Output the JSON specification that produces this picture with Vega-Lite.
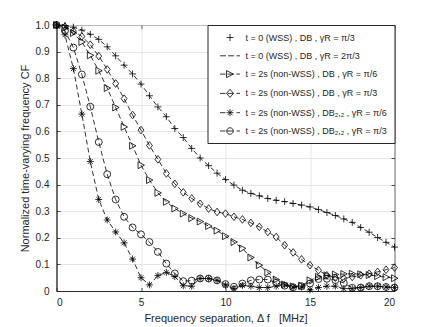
{
  "$schema": "https://vega.github.io/schema/vega-lite/v6.json",
  "width": 338,
  "height": 266,
  "autosize": {"type": "none"},
  "padding": {"left": 56.5, "top": 25, "right": 41.5, "bottom": 36},
  "background": "white",
  "config": {
    "font": "Liberation Sans",
    "view": {"stroke": "#262626", "strokeWidth": 1},
    "axis": {
      "domainColor": "#262626",
      "tickColor": "#262626",
      "labelColor": "#262626",
      "titleColor": "#262626",
      "labelFont": "Liberation Sans",
      "titleFont": "Liberation Sans",
      "labelFontSize": 10,
      "titleFontSize": 11,
      "titleFontWeight": "normal",
      "gridColor": "#dfdfdf",
      "gridWidth": 0.8,
      "tickSize": -3.5,
      "tickWidth": 0.8,
      "domainWidth": 1
    },
    "legend": {
      "orient": "top-right",
      "offset": 0,
      "padding": 7,
      "fillColor": "white",
      "strokeColor": "#262626",
      "strokeWidth": 1,
      "labelFont": "Liberation Sans",
      "labelFontSize": 9,
      "labelColor": "#262626",
      "symbolSize": 100,
      "symbolOpacity": 1,
      "symbolStrokeColor": "black",
      "symbolFillColor": "transparent",
      "symbolStrokeWidth": 0.8,
      "rowPadding": 7.3,
      "symbolOffset": 10,
      "labelOffset": 10
    }
  },
  "data": {
    "values": [
      {"s":"A","x":0,"y":1.000},{"s":"A","x":0.5,"y":0.998},{"s":"A","x":1,"y":0.992},{"s":"A","x":1.5,"y":0.981},{"s":"A","x":2,"y":0.965},{"s":"A","x":2.5,"y":0.946},{"s":"A","x":3,"y":0.918},{"s":"A","x":3.5,"y":0.884},{"s":"A","x":4,"y":0.849},{"s":"A","x":4.5,"y":0.816},{"s":"A","x":5,"y":0.778},{"s":"A","x":5.5,"y":0.734},{"s":"A","x":6,"y":0.692},{"s":"A","x":6.5,"y":0.655},{"s":"A","x":7,"y":0.611},{"s":"A","x":7.5,"y":0.577},{"s":"A","x":8,"y":0.536},{"s":"A","x":8.5,"y":0.500},{"s":"A","x":9,"y":0.471},{"s":"A","x":9.5,"y":0.443},{"s":"A","x":10,"y":0.419},{"s":"A","x":10.5,"y":0.398},{"s":"A","x":11,"y":0.379},{"s":"A","x":11.5,"y":0.367},{"s":"A","x":12,"y":0.358},{"s":"A","x":12.5,"y":0.348},{"s":"A","x":13,"y":0.341},{"s":"A","x":13.5,"y":0.336},{"s":"A","x":14,"y":0.329},{"s":"A","x":14.5,"y":0.323},{"s":"A","x":15,"y":0.316},{"s":"A","x":15.5,"y":0.306},{"s":"A","x":16,"y":0.295},{"s":"A","x":16.5,"y":0.284},{"s":"A","x":17,"y":0.271},{"s":"A","x":17.5,"y":0.258},{"s":"A","x":18,"y":0.239},{"s":"A","x":18.5,"y":0.221},{"s":"A","x":19,"y":0.201},{"s":"A","x":19.5,"y":0.183},{"s":"A","x":20,"y":0.165},
      {"s":"C","x":0,"y":1.000},{"s":"C","x":0.5,"y":0.990},{"s":"C","x":1,"y":0.970},{"s":"C","x":1.5,"y":0.936},{"s":"C","x":2,"y":0.886},{"s":"C","x":2.5,"y":0.828},{"s":"C","x":3,"y":0.763},{"s":"C","x":3.5,"y":0.690},{"s":"C","x":4,"y":0.617},{"s":"C","x":4.5,"y":0.546},{"s":"C","x":5,"y":0.473},{"s":"C","x":5.5,"y":0.417},{"s":"C","x":6,"y":0.369},{"s":"C","x":6.5,"y":0.335},{"s":"C","x":7,"y":0.310},{"s":"C","x":7.5,"y":0.291},{"s":"C","x":8,"y":0.274},{"s":"C","x":8.5,"y":0.261},{"s":"C","x":9,"y":0.244},{"s":"C","x":9.5,"y":0.227},{"s":"C","x":10,"y":0.206},{"s":"C","x":10.5,"y":0.184},{"s":"C","x":11,"y":0.160},{"s":"C","x":11.5,"y":0.126},{"s":"C","x":12,"y":0.097},{"s":"C","x":12.5,"y":0.070},{"s":"C","x":13,"y":0.043},{"s":"C","x":13.5,"y":0.025},{"s":"C","x":14,"y":0.017},{"s":"C","x":14.5,"y":0.020},{"s":"C","x":15,"y":0.040},{"s":"C","x":15.5,"y":0.053},{"s":"C","x":16,"y":0.059},{"s":"C","x":16.5,"y":0.062},{"s":"C","x":17,"y":0.064},{"s":"C","x":17.5,"y":0.065},{"s":"C","x":18,"y":0.063},{"s":"C","x":18.5,"y":0.060},{"s":"C","x":19,"y":0.056},{"s":"C","x":19.5,"y":0.052},{"s":"C","x":20,"y":0.048},
      {"s":"D","x":0,"y":1.000},{"s":"D","x":0.5,"y":0.994},{"s":"D","x":1,"y":0.977},{"s":"D","x":1.5,"y":0.957},{"s":"D","x":2,"y":0.926},{"s":"D","x":2.5,"y":0.883},{"s":"D","x":3,"y":0.833},{"s":"D","x":3.5,"y":0.780},{"s":"D","x":4,"y":0.723},{"s":"D","x":4.5,"y":0.662},{"s":"D","x":5,"y":0.605},{"s":"D","x":5.5,"y":0.547},{"s":"D","x":6,"y":0.495},{"s":"D","x":6.5,"y":0.442},{"s":"D","x":7,"y":0.403},{"s":"D","x":7.5,"y":0.371},{"s":"D","x":8,"y":0.348},{"s":"D","x":8.5,"y":0.328},{"s":"D","x":9,"y":0.310},{"s":"D","x":9.5,"y":0.297},{"s":"D","x":10,"y":0.291},{"s":"D","x":10.5,"y":0.279},{"s":"D","x":11,"y":0.269},{"s":"D","x":11.5,"y":0.256},{"s":"D","x":12,"y":0.241},{"s":"D","x":12.5,"y":0.222},{"s":"D","x":13,"y":0.203},{"s":"D","x":13.5,"y":0.172},{"s":"D","x":14,"y":0.145},{"s":"D","x":14.5,"y":0.119},{"s":"D","x":15,"y":0.097},{"s":"D","x":15.5,"y":0.078},{"s":"D","x":16,"y":0.059},{"s":"D","x":16.5,"y":0.050},{"s":"D","x":17,"y":0.047},{"s":"D","x":17.5,"y":0.053},{"s":"D","x":18,"y":0.059},{"s":"D","x":18.5,"y":0.065},{"s":"D","x":19,"y":0.072},{"s":"D","x":19.5,"y":0.080},{"s":"D","x":20,"y":0.088},
      {"s":"E","x":0,"y":1.000},{"s":"E","x":0.5,"y":0.963},{"s":"E","x":1,"y":0.836},{"s":"E","x":1.5,"y":0.665},{"s":"E","x":2,"y":0.487},{"s":"E","x":2.5,"y":0.344},{"s":"E","x":3,"y":0.267},{"s":"E","x":3.5,"y":0.222},{"s":"E","x":4,"y":0.181},{"s":"E","x":4.5,"y":0.120},{"s":"E","x":5,"y":0.050},{"s":"E","x":5.5,"y":0.023},{"s":"E","x":6,"y":0.058},{"s":"E","x":6.5,"y":0.070},{"s":"E","x":7,"y":0.054},{"s":"E","x":7.5,"y":0.020},{"s":"E","x":8,"y":0.018},{"s":"E","x":8.5,"y":0.047},{"s":"E","x":9,"y":0.047},{"s":"E","x":9.5,"y":0.040},{"s":"E","x":10,"y":0.022},{"s":"E","x":10.5,"y":0.009},{"s":"E","x":11,"y":0.021},{"s":"E","x":11.5,"y":0.018},{"s":"E","x":12,"y":0.013},{"s":"E","x":12.5,"y":0.013},{"s":"E","x":13,"y":0.018},{"s":"E","x":13.5,"y":0.023},{"s":"E","x":14,"y":0.015},{"s":"E","x":14.5,"y":0.015},{"s":"E","x":15,"y":0.004},{"s":"E","x":15.5,"y":0.013},{"s":"E","x":16,"y":0.018},{"s":"E","x":16.5,"y":0.018},{"s":"E","x":17,"y":0.009},{"s":"E","x":17.5,"y":0.009},{"s":"E","x":18,"y":0.013},{"s":"E","x":18.5,"y":0.018},{"s":"E","x":19,"y":0.018},{"s":"E","x":19.5,"y":0.015},{"s":"E","x":20,"y":0.013},
      {"s":"F","x":0,"y":1.000},{"s":"F","x":0.5,"y":0.978},{"s":"F","x":1,"y":0.915},{"s":"F","x":1.5,"y":0.814},{"s":"F","x":2,"y":0.693},{"s":"F","x":2.5,"y":0.560},{"s":"F","x":3,"y":0.439},{"s":"F","x":3.5,"y":0.344},{"s":"F","x":4,"y":0.279},{"s":"F","x":4.5,"y":0.239},{"s":"F","x":5,"y":0.213},{"s":"F","x":5.5,"y":0.184},{"s":"F","x":6,"y":0.147},{"s":"F","x":6.5,"y":0.103},{"s":"F","x":7,"y":0.066},{"s":"F","x":7.5,"y":0.037},{"s":"F","x":8,"y":0.039},{"s":"F","x":8.5,"y":0.047},{"s":"F","x":9,"y":0.047},{"s":"F","x":9.5,"y":0.040},{"s":"F","x":10,"y":0.026},{"s":"F","x":10.5,"y":0.016},{"s":"F","x":11,"y":0.028},{"s":"F","x":11.5,"y":0.040},{"s":"F","x":12,"y":0.043},{"s":"F","x":12.5,"y":0.043},{"s":"F","x":13,"y":0.031},{"s":"F","x":13.5,"y":0.020},{"s":"F","x":14,"y":0.014},{"s":"F","x":14.5,"y":0.018},{"s":"F","x":15,"y":0.028},{"s":"F","x":15.5,"y":0.045},{"s":"F","x":16,"y":0.046},{"s":"F","x":16.5,"y":0.041},{"s":"F","x":17,"y":0.030},{"s":"F","x":17.5,"y":0.012},{"s":"F","x":18,"y":0.013},{"s":"F","x":18.5,"y":0.018},{"s":"F","x":19,"y":0.018},{"s":"F","x":19.5,"y":0.015},{"s":"F","x":20,"y":0.013}
    ]
  },
  "layer": [
    {
      "mark": {"type": "line", "color": "black", "strokeWidth": 0.8, "strokeDash": [5, 3]},
      "encoding": {
        "x": {"field": "x", "type": "quantitative", "scale": {"domain": [0, 20], "nice": false},
              "axis": {"orient": "bottom", "values": [0, 5, 10, 15, 20], "grid": true, "labelPadding": 10, "title": "Frequency separation, Δ f\u00a0\u00a0\u00a0[MHz]", "titlePadding": 5}},
        "y": {"field": "y", "type": "quantitative", "scale": {"domain": [0, 1], "nice": false},
              "axis": {"orient": "left", "values": [0, 0.1, 0.2, 0.3, 0.4, 0.5, 0.6, 0.7, 0.8, 0.9, 1], "grid": true, "labelPadding": 11, "labelExpr": "datum.value == 0 ? '0' : format(datum.value, '.1f')", "title": "Normalized time-varying frequency CF", "titlePadding": 5}},
        "detail": {"field": "s", "type": "nominal"}
      }
    },
    {
      "mark": {"type": "point", "filled": false, "color": "black", "strokeWidth": 0.8, "size": 48, "opacity": 1},
      "encoding": {
        "x": {"field": "x", "type": "quantitative", "scale": {"domain": [0, 20], "nice": false},
              "axis": {"orient": "top", "values": [0, 5, 10, 15, 20], "grid": false, "labels": false, "domain": false, "title": null}},
        "y": {"field": "y", "type": "quantitative", "scale": {"domain": [0, 1], "nice": false},
              "axis": {"orient": "right", "values": [0, 0.1, 0.2, 0.3, 0.4, 0.5, 0.6, 0.7, 0.8, 0.9, 1], "grid": false, "labels": false, "domain": false, "title": null}},
        "shape": {"field": "s", "type": "nominal", "legend": null,
                  "scale": {"domain": ["A", "C", "D", "E", "F"],
                            "range": ["M-1,0H1M0,-1V1", "M-0.85,-1L1,0L-0.85,1Z", "M0,-1.1L0.85,0L0,1.1L-0.85,0Z", "M-1,0H1M0,-1V1M-0.7,-0.7L0.7,0.7M-0.7,0.7L0.7,-0.7", "circle"]}}
      }
    },
    {
      "mark": {"type": "point", "filled": false, "color": "black", "opacity": 0},
      "encoding": {
        "x": {"field": "x", "type": "quantitative", "scale": {"domain": [0, 20], "nice": false}, "axis": null},
        "y": {"field": "y", "type": "quantitative", "scale": {"domain": [0, 1], "nice": false}, "axis": null},
        "shape": {"field": "s", "type": "nominal",
                  "scale": {"domain": ["A", "B", "C", "D", "E", "F"],
                            "range": [
                              "M-0.7,0H0.7M0,-0.7V0.7",
                              "M-2.0,0H-0.8M-0.4,0H0.8M1.3,0H2.0",
                              "M-2.0,0H-0.9M-0.5,0H0.7M1.3,0H2.0M-0.7,-0.7L0.7,0L-0.7,0.7Z",
                              "M-2.0,0H-0.9M-0.5,0H0.7M1.3,0H2.0M0,-0.8L0.7,0L0,0.8L-0.7,0Z",
                              "M-2.0,0H-0.9M-0.7,0H0.7M1.3,0H2.0M0,-0.7V0.7M-0.5,-0.5L0.5,0.5M-0.5,0.5L0.5,-0.5",
                              "M-2.0,0H-0.9M-0.65,0H0.65M1.3,0H2.0M0.65,0A0.65,0.65 0 1 1 -0.65,0A0.65,0.65 0 1 1 0.65,0"
                            ]},
                  "legend": {"title": null,
                             "labelExpr": "datum.label == 'A' ? 't = 0 (WSS) , DB , γR = π/3' : datum.label == 'B' ? 't = 0 (WSS) , DB , γR = 2π/3' : datum.label == 'C' ? 't = 2s (non-WSS) , DB , γR = π/6' : datum.label == 'D' ? 't = 2s (non-WSS) , DB , γR = π/3' : datum.label == 'E' ? 't = 2s (non-WSS) , DB₂,₂ , γR = π/6' : 't = 2s (non-WSS) , DB₂,₂ , γR = π/3'"}}
      }
    }
  ],
  "resolve": {
    "scale": {"shape": "independent"},
    "axis": {"x": "independent", "y": "independent"}
  }
}
